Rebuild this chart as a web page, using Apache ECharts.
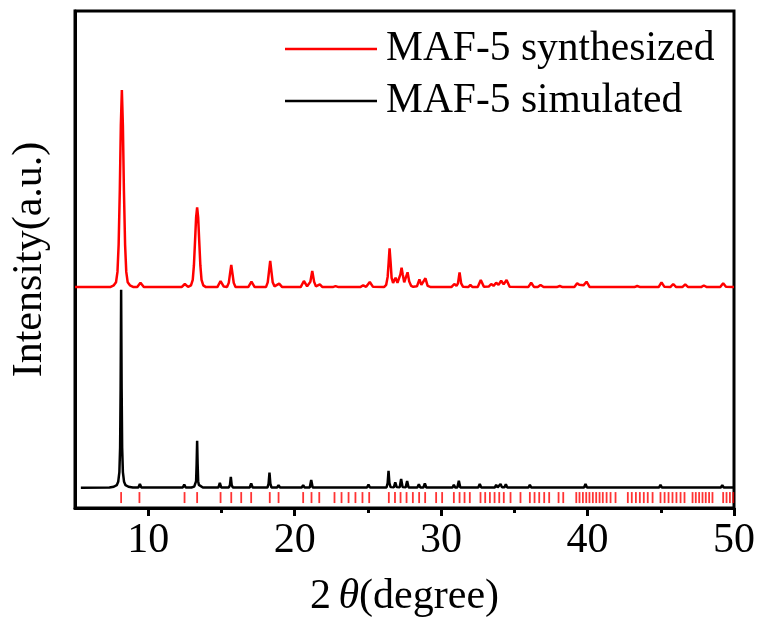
<!DOCTYPE html>
<html>
<head>
<meta charset="utf-8">
<script src="https://cdn.jsdelivr.net/npm/echarts@6/dist/echarts.min.js"></script>
<style>html,body{margin:0;padding:0;background:#fff}#c{width:758px;height:621px}</style>
</head>
<body>
<div id="c"></div>
<script>
// ---- data (2θ in degrees, intensity in arbitrary units) ----
const xTickLabels = [10, 20, 30, 40, 50];
const xMinorTicks = [15, 25, 35, 45];

const synthesized = [
  [5.0,44.45],[7.4,44.45],[7.65,44.8],[7.8,45.4],[7.9,47.5],[7.98,53],[8.06,64],[8.13,77],[8.2,84.1],[8.27,77],[8.34,64],[8.42,53],[8.5,47.5],[8.6,45.4],[8.75,44.8],[9.0,44.45],
  [9.25,44.45],[9.47,45.33],[9.7,44.45],
  [12.28,44.45],[12.5,45.07],[12.72,44.5],
  [12.74,44.45],[12.92,44.8],[13.04,45.9],[13.12,48.8],[13.2,53.9],[13.27,58.5],[13.34,60.5],[13.41,58.5],[13.48,53.9],[13.56,48.8],[13.64,45.9],[13.76,44.8],[13.94,44.45],
  [14.72,44.45],[14.94,45.67],[15.16,44.55],
  [15.38,44.45],[15.5,45.3],[15.58,47],[15.67,48.89],[15.76,47],[15.84,45.3],[15.96,44.45],
  [16.83,44.45],[17.05,45.53],[17.27,44.45],
  [18.04,44.45],[18.16,45.4],[18.24,47.4],[18.33,49.7],[18.42,47.4],[18.5,45.4],[18.62,44.6],
  [18.75,44.5],[18.94,45.13],[19.15,44.45],
  [20.41,44.45],[20.63,45.67],[20.85,44.6],[20.95,44.7],[21.07,45.5],[21.2,47.69],[21.33,45.5],[21.45,44.6],
  [21.55,44.5],[21.72,45.0],[21.9,44.45],
  [22.6,44.45],[22.79,44.65],[23.0,44.45],
  [24.48,44.45],[24.68,44.81],[24.88,44.5],[24.95,44.5],[25.13,45.47],[25.35,44.5],
  [26.1,44.45],[26.25,44.9],[26.35,46.5],[26.42,49.5],[26.48,52.25],[26.55,49.5],[26.62,46.3],[26.72,45.3],[26.89,46.34],[27.02,45.3],[27.12,45.5],[27.22,47],[27.3,48.35],[27.38,47],[27.48,45.4],[27.6,45.8],[27.71,47.42],[27.82,45.6],[27.95,44.7],[28.1,44.5],[28.35,44.6],[28.52,46.01],[28.65,44.9],[28.75,44.9],[28.93,46.22],[29.08,44.7],[29.3,44.45],
  [30.7,44.45],[30.9,45.07],[31.05,44.7],[31.15,45.2],[31.26,47.42],[31.37,45.2],[31.5,44.5],
  [31.85,44.45],[32.0,44.87],[32.15,44.45],
  [32.5,44.45],[32.71,45.87],[32.92,44.5],
  [33.25,44.55],[33.42,45.07],[33.58,44.7],[33.76,45.33],[33.92,44.9],[34.1,45.73],[34.27,45.0],[34.47,45.87],[34.68,44.5],
  [35.95,44.45],[36.15,45.33],[36.35,44.45],
  [36.6,44.45],[36.79,44.87],[37.0,44.45],
  [37.9,44.45],[38.1,44.67],[38.3,44.45],
  [39.1,44.45],[39.29,45.21],[39.43,44.9],[39.56,45.0],[39.72,44.8],[39.93,45.53],[40.15,44.45],
  [43.2,44.45],[43.39,44.67],[43.6,44.45],
  [44.85,44.45],[45.05,45.41],[45.25,44.5],
  [45.65,44.45],[45.85,45.07],[46.05,44.45],
  [46.47,44.45],[46.67,45.0],[46.87,44.45],
  [47.75,44.45],[47.94,44.77],[48.15,44.45],
  [49.06,44.45],[49.26,45.21],[49.45,44.5],[50.0,44.45]
];

const simulated = [
  [5.4,4.08],[7.35,4.12],[7.65,4.28],[7.85,4.6],[7.95,5.26],[8.03,7.2],[8.08,12.1],[8.115,24],[8.15,43.9],[8.185,24],[8.22,12.1],[8.27,7.2],[8.35,5.26],[8.45,4.6],[8.65,4.28],[8.95,4.12],
  [9.33,4.12],[9.43,4.83],[9.53,4.12],
  [12.36,4.12],[12.46,4.69],[12.56,4.12],
  [12.95,4.12],[13.14,4.3],[13.22,4.65],[13.27,5.4],[13.305,8.8],[13.34,13.54],[13.375,8.8],[13.41,5.4],[13.46,4.65],[13.54,4.3],[13.73,4.12],
  [14.79,4.12],[14.89,5.03],[14.99,4.12],
  [15.5,4.12],[15.58,4.6],[15.64,6.24],[15.7,4.6],[15.78,4.12],
  [16.93,4.12],[17.03,4.97],[17.13,4.12],
  [18.14,4.12],[18.22,4.9],[18.28,7.1],[18.34,4.9],[18.42,4.12],
  [18.8,4.12],[18.9,4.57],[19.0,4.12],
  [20.48,4.12],[20.58,4.57],[20.68,4.12],
  [21.03,4.12],[21.13,5.63],[21.23,4.12],
  [21.58,4.12],[21.68,4.49],[21.78,4.12],
  [24.94,4.12],[25.04,4.69],[25.14,4.12],
  [26.27,4.12],[26.35,5.0],[26.41,7.5],[26.47,5.0],[26.55,4.2],
  [26.77,4.15],[26.87,5.17],[26.97,4.2],
  [27.17,4.15],[27.27,5.83],[27.37,4.2],
  [27.58,4.15],[27.68,5.43],[27.78,4.12],
  [28.38,4.12],[28.48,4.77],[28.58,4.12],
  [28.79,4.12],[28.89,4.97],[28.99,4.12],
  [30.77,4.12],[30.87,4.63],[30.97,4.12],
  [31.11,4.12],[31.21,5.49],[31.31,4.12],
  [31.86,4.12],[31.96,4.43],[32.06,4.12],
  [32.54,4.12],[32.64,4.83],[32.74,4.12],
  [33.27,4.12],[33.37,4.49],[33.47,4.12],
  [33.66,4.12],[33.76,4.63],[33.86,4.15],
  [33.96,4.15],[34.06,4.83],[34.16,4.15],
  [34.32,4.15],[34.42,4.77],[34.52,4.12],
  [35.96,4.12],[36.06,4.63],[36.16,4.12],
  [36.64,4.12],[36.74,4.43],[36.84,4.12],
  [39.19,4.12],[39.29,4.49],[39.39,4.12],
  [39.42,4.12],[39.52,4.49],[39.62,4.12],
  [39.76,4.12],[39.86,4.83],[39.96,4.12],
  [44.88,4.12],[44.98,4.63],[45.08,4.12],
  [45.7,4.12],[45.8,4.49],[45.9,4.12],
  [46.47,4.12],[46.57,4.49],[46.67,4.12],
  [47.73,4.12],[47.83,4.29],[47.93,4.12],
  [49.1,4.12],[49.2,4.57],[49.3,4.12],[50.0,4.1]
];

const braggPositions = [
  8.15, 9.40, 12.48, 13.34, 14.94, 15.67, 16.35, 17.03, 18.30, 18.90, 20.58, 21.15, 21.68,
  22.72, 23.20, 23.68, 24.15, 24.63, 25.09, 26.43, 26.85, 27.23, 27.64, 28.07, 28.50, 28.91,
  29.66, 30.07, 30.87, 31.26, 31.60, 31.96, 32.69, 33.01, 33.33, 33.65, 33.97, 34.28, 34.74,
  35.42, 36.06, 36.38, 36.70, 37.04, 37.38, 38.02, 38.34, 39.23, 39.45, 39.68, 39.91, 40.13,
  40.36, 40.59, 40.82, 41.04, 41.30, 41.57, 41.91, 42.75, 43.02, 43.30, 43.57, 43.84, 44.11,
  44.44, 44.98, 45.26, 45.53, 45.80, 46.07, 46.35, 46.62, 47.17, 47.39, 47.62, 47.85, 48.07,
  48.30, 48.53, 49.26, 49.49, 49.72, 49.95
];
const braggLevel = 2.1;

// ---- chart ----
const FONT = '"Liberation Serif", "Times New Roman", serif';
const chart = echarts.init(document.getElementById('c'), null, {renderer: 'canvas'});
chart.setOption({
  animation: false,
  backgroundColor: '#fff',
  grid: {left: 75, right: 24, top: 11, bottom: 113, show: true, borderColor: '#000', borderWidth: 3, outerBoundsMode: 'none', containLabel: false},
  legend: {
    orient: 'vertical', left: 285, top: 28, padding: 0,
    icon: 'rect', itemWidth: 92, itemHeight: 2.5, itemGap: 10,
    data: ['MAF-5 synthesized', 'MAF-5 simulated'],
    textStyle: {fontFamily: FONT, fontSize: 41.5, color: '#000', lineHeight: 42, padding: [0, 0, 0, 4]}
  },
  xAxis: [{
    type: 'value', min: 5, max: 50,
    axisLine: {show: true, onZero: false, lineStyle: {color: '#000', width: 3}},
    axisTick: {show: true, customValues: xTickLabels, length: 8, lineStyle: {color: '#000', width: 3}},
    axisLabel: {customValues: xTickLabels, fontFamily: FONT, fontSize: 42, color: '#000', margin: 12},
    splitLine: {show: false},
    name: '{n|2}{s| }{t|θ}{n|(degree)}',
    nameLocation: 'middle', nameGap: 68,
    nameTextStyle: {rich: {
      n: {fontFamily: FONT, fontSize: 42, color: '#000'},
      s: {fontFamily: FONT, fontSize: 30, color: '#000'},
      t: {fontFamily: FONT, fontSize: 42, color: '#000', fontStyle: 'italic'}
    }}
  }, {
    type: 'value', min: 5, max: 50, position: 'bottom',
    axisLine: {show: false},
    axisTick: {show: true, customValues: xMinorTicks, length: 5, lineStyle: {color: '#000', width: 3}},
    axisLabel: {show: false},
    splitLine: {show: false}
  }],
  yAxis: {
    type: 'value', min: 0, max: 100,
    axisLine: {show: true, lineStyle: {color: '#000', width: 3}},
    axisTick: {show: false}, axisLabel: {show: false}, splitLine: {show: false},
    name: 'Intensity(a.u.)', nameLocation: 'middle', nameGap: 24,
    nameTextStyle: {fontFamily: FONT, fontSize: 42, color: '#000'}
  },
  series: [{
    name: 'MAF-5 synthesized', type: 'line', data: synthesized, symbol: 'none',
    lineStyle: {color: '#ff0000', width: 2.5}, itemStyle: {color: '#ff0000'}, silent: true
  }, {
    name: 'MAF-5 simulated', type: 'line', data: simulated, symbol: 'none',
    lineStyle: {color: '#000', width: 2.5}, itemStyle: {color: '#000'}, silent: true
  }, {
    name: 'Bragg', type: 'scatter', data: braggPositions.map(v => [v, braggLevel]),
    symbol: 'rect', symbolSize: [1.8, 11], itemStyle: {color: '#ff0000'}, silent: true
  }]
});
</script>
</body>
</html>
